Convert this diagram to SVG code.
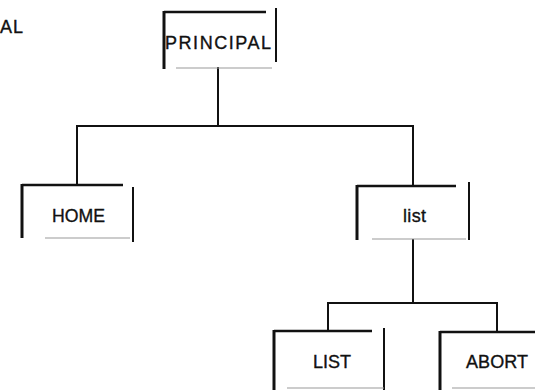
<svg xmlns="http://www.w3.org/2000/svg" width="535" height="390" viewBox="0 0 535 390">
<style>
  .edge { stroke: #111; stroke-width: 2; fill: none; stroke-linecap: square; }
  .bl { stroke: #111; stroke-width: 3; fill: none; }
  .bt { stroke: #111; stroke-width: 2.5; fill: none; }
  .br { stroke: #111; stroke-width: 2; fill: none; }
  .bb { stroke: #999; stroke-width: 1.2; fill: none; }
  .lbl { font-family: "Liberation Sans", Arial, sans-serif; font-size: 18px; fill: #111; stroke: #111; stroke-width: 0.35; }
</style>
<rect width="535" height="390" fill="#fff"/>
<text class="lbl" x="0" y="33" font-size="15" textLength="23" lengthAdjust="spacing">AL</text>
<g id="connectors">
  <path class="edge" d="M218 68 V126"/>
  <path class="edge" d="M77 126 H413"/>
  <path class="edge" d="M77 126 V185"/>
  <path class="edge" d="M413 126 V186"/>
  <path class="edge" d="M413 240 V303"/>
  <path class="edge" d="M328 303 H497"/>
  <path class="edge" d="M328 303 V331"/>
  <path class="edge" d="M497 303 V332"/>
</g>
<g id="principal">
  <path class="bl" d="M164 11 V69"/>
  <path class="bt" d="M164 12 H266"/>
  <path class="br" d="M276 8 V62"/>
  <path class="bb" d="M176 68 H272"/>
  <text class="lbl" x="165" y="49" textLength="106" lengthAdjust="spacing">PRINCIPAL</text>
</g>
<g id="home">
  <path class="bl" d="M22 184 V238"/>
  <path class="bt" d="M22 185 H123"/>
  <path class="br" d="M133 187 V242"/>
  <path class="bb" d="M45 238 H130"/>
  <text class="lbl" x="52" y="222" textLength="53" lengthAdjust="spacingAndGlyphs">HOME</text>
</g>
<g id="list_lower">
  <path class="bl" d="M357 185 V240"/>
  <path class="bt" d="M357 186 H456"/>
  <path class="br" d="M469 182 V240"/>
  <path class="bb" d="M372 239 H466"/>
  <text class="lbl" x="403" y="222" textLength="23" lengthAdjust="spacing">list</text>
</g>
<g id="LIST">
  <path class="bl" d="M274 330 V390"/>
  <path class="bt" d="M274 331 H372"/>
  <path class="br" d="M384 328 V390"/>
  <path class="bb" d="M287 388 H384"/>
  <text class="lbl" x="313" y="368" textLength="38" lengthAdjust="spacing">LIST</text>
</g>
<g id="ABORT">
  <path class="bl" d="M440 331 V390"/>
  <path class="bt" d="M440 332 H535"/>
  <path class="bb" d="M452 388 H535"/>
  <text class="lbl" x="466" y="368" textLength="62" lengthAdjust="spacing">ABORT</text>
</g>
</svg>
